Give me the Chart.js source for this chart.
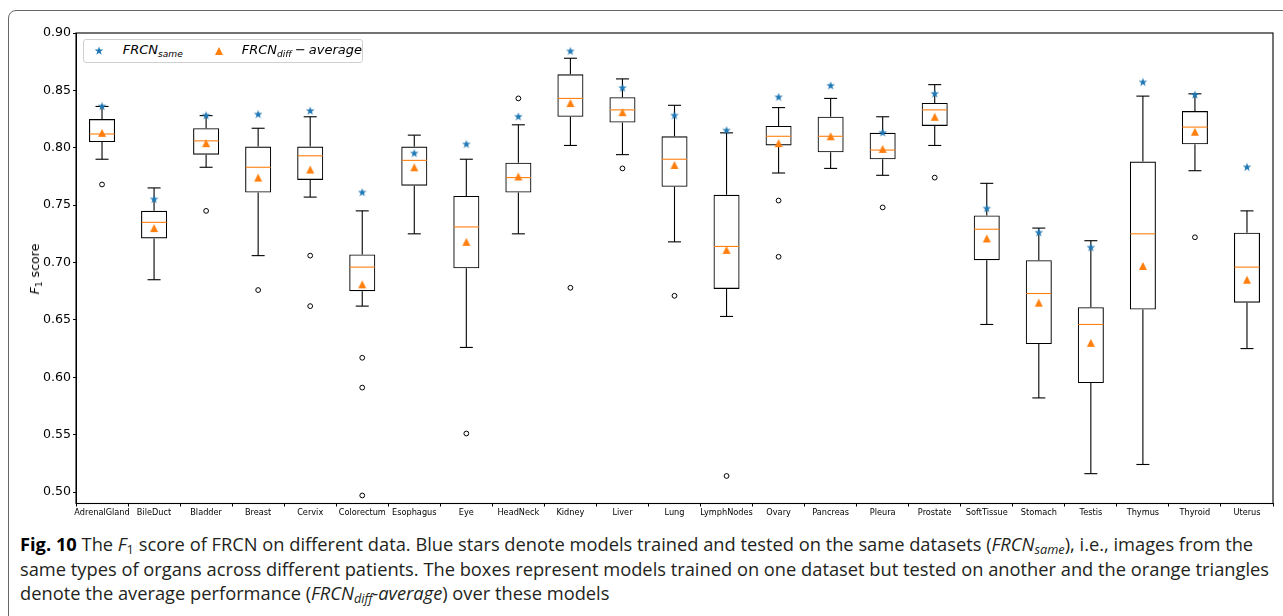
<!DOCTYPE html>
<html>
<head>
<meta charset="utf-8">
<script src="https://cdn.jsdelivr.net/npm/chart.js@4.4.0/dist/chart.umd.min.js"></script>
<style>
  html, body { margin: 0; padding: 0; background: #fff; }
  body { width: 1283px; height: 616px; position: relative; overflow: hidden; }
  #frame { position: absolute; left: 8px; top: 10px; width: 1320px; height: 700px;
           border: 1.5px solid #666; border-radius: 8px; box-sizing: border-box; }
  #wrap { position: absolute; left: 0; top: 0; width: 1283px; height: 526px; }
  .mt { position: absolute; font-family: 'DejaVu Sans', sans-serif; font-style: italic;
        font-size: 13px; line-height: 16px; color: #000; white-space: nowrap; }
  .mt sub, #ylab sub { font-size: 70%; vertical-align: -0.3em; line-height: 0; }
  #legendBox { position: absolute; left: 82.5px; top: 39px; width: 280.5px; height: 23.5px;
               border: 1px solid #d0d0d0; border-radius: 3px; background: #fff; box-sizing: border-box; }
  .mk { position: absolute; }
  #ylab { position: absolute; left: 34.5px; top: 268.5px; transform: translate(-50%, -50%) rotate(-90deg);
          font-family: 'DejaVu Sans', sans-serif; font-size: 12.6px; line-height: 16px; white-space: nowrap; color: #000; }
  #caption { position: absolute; left: 20px; top: 532px; font-family: 'Open Sans', sans-serif; font-size: 18.3px;
             line-height: 24.5px; color: #231f20; white-space: nowrap; }
  #caption sub { font-size: 70%; vertical-align: -0.25em; line-height: 0; }
  #caption b { color: #000; }
</style>
</head>
<body>
<div id="frame"></div>
<div id="wrap"><canvas id="c" width="1283" height="526"></canvas></div>

<div id="legendBox"></div>
<svg class="mk" style="left:94.3px; top:46px" width="10" height="10" viewBox="0 0 10 10" id="legStar"></svg>
<div class="mt" style="left:122.7px; top:41.8px">FRCN<sub>same</sub></div>
<svg class="mk" style="left:214px; top:46px" width="10" height="10" viewBox="0 0 10 10"><polygon points="5,1 1,9 9,9" fill="#ff7f0e"/></svg>
<div class="mt" style="left:241.7px; top:41.8px">FRCN<sub>diff</sub><span style="font-style:normal; margin:0 3px;">−</span>average</div>

<div id="ylab"><i>F</i><sub>1</sub> score</div>

<div id="caption"><b>Fig. 10</b> The <i>F</i><sub>1</sub> score of FRCN on different data. Blue stars denote models trained and tested on the same datasets (<i>FRCN<sub>same</sub></i>), i.e., images from the<br>same types of organs across different patients. The boxes represent models trained on one dataset but tested on another and the orange triangles<br>denote the average performance (<i>FRCN<sub>diff</sub>-average</i>) over these models</div>

<script>
// ---------------- data ----------------
const categories = ['AdrenalGland','BileDuct','Bladder','Breast','Cervix','Colorectum','Esophagus','Eye','HeadNeck','Kidney','Liver','Lung','LymphNodes','Ovary','Pancreas','Pleura','Prostate','SoftTissue','Stomach','Testis','Thymus','Thyroid','Uterus'];
const whiskerLow  = [0.790,0.685,0.783,0.706,0.757,0.662,0.725,0.626,0.725,0.802,0.794,0.718,0.653,0.778,0.782,0.776,0.802,0.646,0.582,0.516,0.524,0.780,0.625];
const q1          = [0.805,0.721,0.794,0.761,0.772,0.675,0.767,0.695,0.761,0.827,0.822,0.766,0.677,0.802,0.796,0.790,0.819,0.702,0.629,0.595,0.659,0.803,0.665];
const medians     = [0.812,0.735,0.806,0.783,0.793,0.696,0.789,0.731,0.774,0.843,0.833,0.790,0.714,0.810,0.810,0.798,0.833,0.729,0.673,0.646,0.725,0.818,0.696];
const q3          = [0.825,0.745,0.817,0.801,0.801,0.707,0.801,0.758,0.787,0.864,0.844,0.810,0.759,0.819,0.827,0.813,0.839,0.741,0.702,0.661,0.788,0.832,0.726];
const whiskerHigh = [0.836,0.765,0.828,0.817,0.827,0.745,0.811,0.790,0.820,0.878,0.860,0.837,0.813,0.835,0.843,0.827,0.855,0.769,0.730,0.719,0.845,0.847,0.745];
const frcnSame    = [0.836,0.755,0.828,0.829,0.832,0.761,0.795,0.803,0.827,0.884,0.852,0.828,0.815,0.844,0.854,0.813,0.847,0.747,0.726,0.713,0.857,0.846,0.783];
const frcnDiffAvg = [0.813,0.730,0.804,0.774,0.781,0.681,0.783,0.718,0.775,0.839,0.831,0.785,0.711,0.804,0.810,0.799,0.827,0.721,0.665,0.630,0.697,0.814,0.685];
const outlierCats = ['AdrenalGland','Bladder','Breast','Cervix','Cervix','Colorectum','Colorectum','Colorectum','Eye','HeadNeck','Kidney','Liver','Lung','LymphNodes','Ovary','Ovary','Pleura','Prostate','Thyroid'];
const outlierVals = [0.768,0.745,0.676,0.706,0.662,0.617,0.591,0.497,0.551,0.843,0.678,0.782,0.671,0.514,0.754,0.705,0.748,0.774,0.722];
const yTicks = [0.50,0.55,0.60,0.65,0.70,0.75,0.80,0.85,0.90];

// ---------------- markers ----------------
function starPath(cx, cy, R, r) {
  const pts = [];
  for (let k = 0; k < 10; k++) {
    const rad = k % 2 === 0 ? R : r;
    const a = -Math.PI / 2 + k * Math.PI / 5;
    pts.push([cx + rad * Math.cos(a), cy + rad * Math.sin(a)]);
  }
  return pts;
}
const starImg = (() => {
  const c = document.createElement('canvas'); c.width = 10; c.height = 10;
  const g = c.getContext('2d'); g.fillStyle = '#1f77b4'; g.beginPath();
  starPath(5, 5, 4.5, 1.8).forEach((p, i) => i ? g.lineTo(p[0], p[1]) : g.moveTo(p[0], p[1]));
  g.closePath(); g.fill(); return c;
})();
const triImg = (() => {
  const c = document.createElement('canvas'); c.width = 10; c.height = 10;
  const g = c.getContext('2d'); g.fillStyle = '#ff7f0e'; g.beginPath();
  g.moveTo(5, 1); g.lineTo(1, 9); g.lineTo(9, 9); g.closePath(); g.fill(); return c;
})();
document.getElementById('legStar').innerHTML =
  '<polygon fill="#1f77b4" points="' + starPath(5, 5, 4.5, 1.8).map(p => p.join(',')).join(' ') + '"/>';

// ---------------- plugins ----------------
const boxParts = {
  id: 'boxParts',
  afterDatasetDraw(chart, args) {
    if (args.index !== 0) return;
    const { ctx, scales: { x, y } } = chart;
    const unit = x.getPixelForValue(1) - x.getPixelForValue(0);
    const capHalf = unit * 0.125, boxHalf = unit * 0.25;
    const seg = (x1, y1, x2, y2) => { ctx.beginPath(); ctx.moveTo(x1, y1); ctx.lineTo(x2, y2); ctx.stroke(); };
    ctx.save();
    ctx.lineWidth = 1.1;
    categories.forEach((c, i) => {
      const cx = x.getPixelForValue(i);
      ctx.strokeStyle = '#000';
      seg(cx, y.getPixelForValue(q3[i]), cx, y.getPixelForValue(whiskerHigh[i]));
      seg(cx, y.getPixelForValue(q1[i]), cx, y.getPixelForValue(whiskerLow[i]));
      seg(cx - capHalf, y.getPixelForValue(whiskerHigh[i]), cx + capHalf, y.getPixelForValue(whiskerHigh[i]));
      seg(cx - capHalf, y.getPixelForValue(whiskerLow[i]), cx + capHalf, y.getPixelForValue(whiskerLow[i]));
      ctx.strokeStyle = '#ff7f0e';
      seg(cx - boxHalf + 0.5, y.getPixelForValue(medians[i]), cx + boxHalf - 0.5, y.getPixelForValue(medians[i]));
    });
    ctx.restore();
  }
};
const frameSpines = {
  id: 'frameSpines',
  afterDraw(chart) {
    const { ctx, chartArea: a } = chart;
    ctx.save(); ctx.strokeStyle = '#000'; ctx.lineWidth = 1.1;
    ctx.strokeRect(a.left, a.top, a.right - a.left, a.bottom - a.top);
    ctx.restore();
  }
};

// ---------------- chart ----------------
new Chart(document.getElementById('c'), {
  type: 'bar',
  data: {
    labels: categories,
    datasets: [
      { type: 'bar', label: 'boxes', data: q1.map((v, i) => [v, q3[i]]),
        backgroundColor: 'rgba(255,255,255,0)', borderColor: '#000', borderWidth: 1.1, borderSkipped: false,
        barPercentage: 0.5, categoryPercentage: 1, order: 10 },
      { type: 'line', label: 'outliers', data: outlierCats.map((c, i) => ({ x: c, y: outlierVals[i] })),
        showLine: false, pointStyle: 'circle', pointRadius: 2.4, pointBorderWidth: 1,
        pointBorderColor: '#000', pointBackgroundColor: 'rgba(255,255,255,0)', order: 5 },
      { type: 'line', label: 'FRCN same', data: frcnSame, showLine: false, pointStyle: starImg, order: 1 },
      { type: 'line', label: 'FRCN diff average', data: frcnDiffAvg, showLine: false, pointStyle: triImg, order: 0 }
    ]
  },
  options: {
    responsive: false, animation: false, devicePixelRatio: 1,
    layout: { padding: { top: 33, right: 10, left: 0, bottom: 0 } },
    plugins: { legend: { display: false }, tooltip: { enabled: false } },
    scales: {
      x: {
        type: 'category', offset: true,
        grid: { display: true, drawOnChartArea: false, drawTicks: true, tickLength: 3, tickColor: '#000', tickWidth: 1 },
        border: { display: true, color: '#000', width: 1 },
        ticks: { color: '#000', font: { family: 'DejaVu Sans', size: 8.2 }, padding: 1.5, maxRotation: 0, autoSkip: false },
        afterFit(s) { s.height = 22.5; }
      },
      y: {
        min: 0.49, max: 0.90,
        grid: { display: true, drawOnChartArea: false, drawTicks: true, tickLength: 3, tickColor: '#000', tickWidth: 1 },
        border: { display: true, color: '#000', width: 1 },
        afterBuildTicks(s) { s.ticks = yTicks.map(v => ({ value: v })); },
        ticks: { color: '#000', font: { family: 'DejaVu Sans', size: 12.6 }, padding: 2,
                 callback: v => Number(v).toFixed(2) },
        afterFit(s) { s.width = 76; }
      }
    }
  },
  plugins: [boxParts, frameSpines]
});
</script>
</body>
</html>
